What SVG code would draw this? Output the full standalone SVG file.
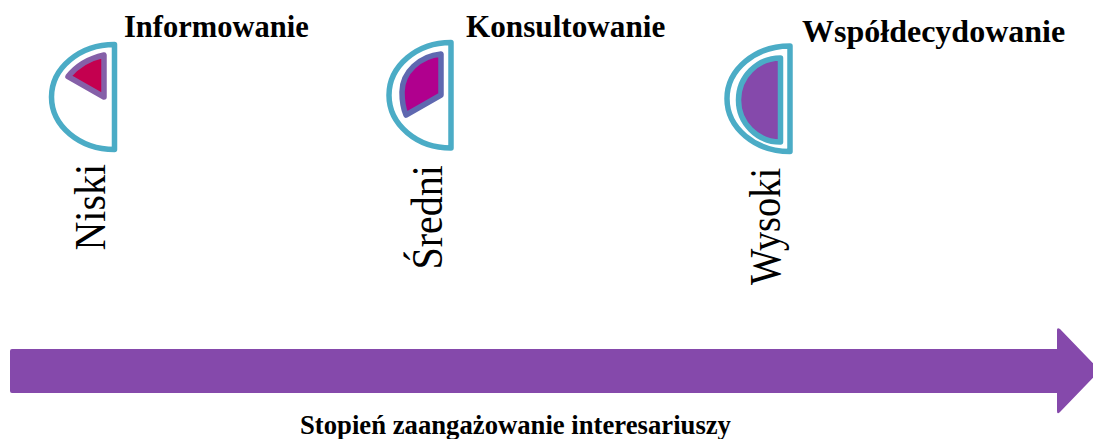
<svg xmlns="http://www.w3.org/2000/svg" width="1093" height="439" viewBox="0 0 1093 439">
<style>
.t{font-family:"Liberation Serif","Times New Roman",serif;font-weight:bold;fill:#000}
.v{font-family:"Liberation Serif","Times New Roman",serif;font-size:40px;fill:#000}
.o{stroke:#4bacc6;stroke-width:5.5;stroke-linejoin:round}
.i{stroke-width:5.5;stroke-linejoin:round}
</style>
<rect width="1093" height="439" fill="#fff"/>
<g id="connectors">
<path d="M12 349H1057V330Q1057 327 1060 329L1100 370.500L1060 412Q1057 415 1057 411V393H12Q10 393 10 391V351Q10 349 12 349Z" fill="#8549ab"/>
</g>
<g id="node-niski">
<path class="o" fill="#fff" d="M114.500 44.500A63 52.500 0 0 0 114.500 149.500Z"/>
<path class="i" d="M104 55V97L68 76.500A63 52.500 0 0 1 104 55Z" fill="#c4004f" stroke="#8560a8"/>
<text class="t" x="124" y="36.700" font-size="30.500">Informowanie</text>
<text class="v" transform="translate(105,250.500) rotate(-90) scale(1,1.130)">Niski</text>
</g>
<g id="node-sredni">
<path class="o" fill="#fff" d="M451 42.500A62 52.750 0 0 0 451 148Z"/>
<path class="i" d="M441 54V95L406 115C403 108 402 100 402 92C402 72 420 56 441 54Z" fill="#b0008e" stroke="#5f68b0"/>
<text class="t" x="466" y="36.700" font-size="31.200">Konsultowanie</text>
<text class="v" transform="translate(441.500,269.500) rotate(-90) scale(1,1.130)">Średni</text>
</g>
<g id="node-wysoki">
<path class="o" fill="#fff" d="M790 46V151.500A63 52.750 0 0 1 790 46Z"/>
<path class="o" d="M780.500 58V142A42 42 0 0 1 780.500 58Z" fill="#8549ab"/>
<text class="t" x="802" y="42" font-size="32">Współdecydowanie</text>
<text class="v" transform="translate(780,285) rotate(-90) scale(0.960,1.130)">Wysoki</text>
</g>
<text id="axis-label" class="t" x="515.500" y="434.300" text-anchor="middle" font-size="26.700">Stopień zaangażowanie interesariuszy</text>
</svg>
